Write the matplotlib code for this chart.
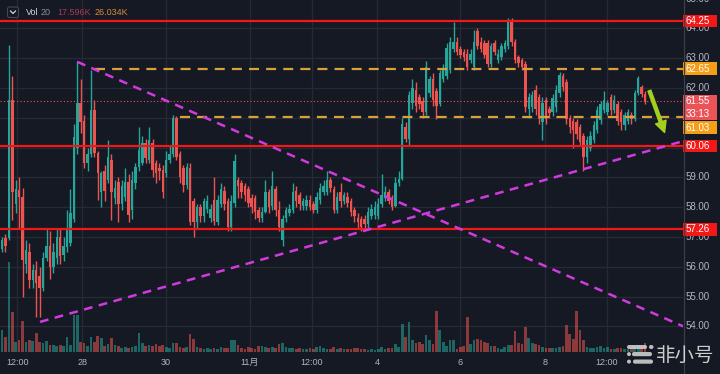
import matplotlib
matplotlib.use("Agg")
import matplotlib.pyplot as plt
from matplotlib.patches import Rectangle, FancyBboxPatch, FancyArrowPatch, Circle
import numpy as np

# ---------------- data ----------------
opens = [
    56.60, 56.95, 56.95, 61.60, 58.10, 58.58, 58.35, 56.10, 56.50, 55.56,
    55.90, 55.70, 55.30, 56.30, 56.70, 56.00, 56.30, 57.00, 56.40, 56.65,
    56.80, 57.60, 60.00, 61.50, 60.90, 59.50, 59.80, 61.26, 59.82, 58.50,
    59.20, 58.90, 59.60, 58.30, 58.85, 58.10, 58.35, 58.85, 57.90, 58.80,
    59.35, 59.50, 60.15, 59.60, 60.15, 59.50, 59.30, 59.25, 59.15, 59.60,
    59.80, 61.00, 59.80, 59.30, 58.75, 59.30, 58.20, 57.50, 58.00, 57.70,
    57.95, 57.65, 58.25, 57.50, 58.10, 58.55, 58.20, 57.35, 58.15, 58.90,
    58.80, 58.70, 58.60, 58.30, 58.30, 57.90, 57.65, 57.85, 58.50, 58.05,
    58.60, 57.90, 56.90, 57.65, 57.80, 57.90, 58.55, 58.40, 58.05, 58.05,
    58.25, 58.10, 57.90, 58.25, 58.50, 58.50, 58.90, 58.60, 57.90, 58.50,
    58.20, 58.35, 58.20, 57.90, 57.65, 57.60, 57.60, 57.45, 57.70, 57.75,
    57.70, 58.10, 58.30, 58.50, 58.30, 58.05, 58.80, 58.95, 60.70, 60.30,
    61.50, 61.95, 61.70, 61.55, 61.20, 61.85, 62.30, 61.90, 61.45, 62.30,
    62.40, 62.60, 63.30, 63.55, 63.30, 63.20, 63.15, 62.95, 62.70, 63.90,
    63.55, 63.50, 63.50, 62.80, 63.50, 62.95, 63.05, 63.30, 63.40, 64.20,
    63.55, 63.05, 62.95, 62.80, 61.30, 61.35, 61.95, 61.70, 60.85, 61.60,
    61.30, 61.20, 61.35, 61.85, 62.40, 62.20, 61.00, 60.90, 60.85, 60.70,
    60.40, 59.70, 60.00, 60.26, 60.60, 60.93, 61.26, 61.20, 61.70, 61.26,
    61.45, 61.20, 60.75, 60.90, 61.10, 60.95, 61.85, 62.05, 61.80,
]
highs = [
    57.00, 57.10, 63.45, 62.40, 58.90, 59.00, 58.65, 56.90, 56.80, 56.10,
    56.20, 56.00, 56.50, 57.30, 57.20, 56.80, 57.30, 57.30, 57.00, 57.90,
    58.60, 60.80, 62.90, 62.30, 61.10, 60.00, 62.60, 61.60, 59.90, 59.20,
    59.40, 60.25, 59.80, 58.90, 59.00, 58.90, 59.30, 59.10, 59.20, 59.50,
    60.70, 60.40, 60.30, 60.70, 60.30, 59.60, 59.50, 59.40, 59.90, 60.10,
    61.10, 61.05, 59.90, 59.40, 59.50, 59.50, 58.30, 58.10, 58.10, 58.30,
    58.40, 58.10, 59.00, 58.40, 58.80, 58.70, 58.30, 58.40, 59.80, 59.00,
    58.90, 58.80, 58.70, 58.45, 58.40, 58.00, 58.00, 58.90, 58.60, 59.20,
    58.70, 58.20, 57.75, 58.00, 58.10, 58.80, 58.70, 58.50, 58.30, 58.40,
    58.40, 58.20, 58.50, 58.80, 58.90, 59.20, 59.00, 58.70, 58.50, 58.80,
    58.50, 58.50, 58.30, 58.00, 57.80, 57.70, 57.75, 58.00, 58.10, 58.20,
    58.30, 59.10, 58.70, 58.60, 58.40, 59.00, 59.20, 61.00, 60.85, 61.90,
    62.30, 62.20, 61.80, 61.70, 62.90, 62.40, 62.50, 62.00, 62.60, 62.80,
    63.50, 63.70, 64.20, 63.70, 63.40, 63.30, 63.30, 63.30, 63.95, 64.00,
    63.70, 63.60, 63.60, 63.50, 63.60, 63.30, 63.50, 63.60, 64.35, 64.35,
    63.65, 63.10, 63.00, 62.90, 61.85, 61.90, 62.10, 61.80, 61.70, 61.70,
    61.40, 61.80, 62.10, 62.55, 62.50, 62.30, 61.10, 61.00, 60.95, 60.80,
    60.50, 60.40, 60.55, 60.90, 61.40, 61.55, 61.90, 61.60, 61.80, 61.75,
    61.55, 61.30, 61.20, 61.30, 61.20, 61.95, 62.40, 62.10, 61.90,
]
lows = [
    56.50, 56.50, 56.90, 57.57, 57.80, 57.30, 55.00, 55.80, 55.30, 55.30,
    54.30, 54.30, 55.20, 56.20, 55.60, 55.80, 56.10, 56.10, 56.20, 56.50,
    56.70, 57.50, 59.80, 60.50, 59.30, 59.20, 59.70, 59.70, 58.25, 58.00,
    58.20, 58.80, 57.57, 58.10, 57.50, 57.90, 58.20, 57.50, 57.60, 58.60,
    59.20, 59.40, 59.50, 59.50, 59.00, 58.80, 58.90, 58.30, 59.00, 59.50,
    59.70, 59.60, 58.80, 58.50, 58.60, 57.40, 57.00, 57.30, 57.50, 57.50,
    57.80, 57.50, 57.40, 57.40, 58.00, 57.90, 57.20, 57.20, 58.00, 58.30,
    58.30, 58.20, 58.00, 57.80, 57.60, 57.50, 57.50, 57.80, 57.80, 57.90,
    57.70, 57.20, 56.70, 57.50, 57.70, 57.80, 58.00, 57.90, 57.90, 57.90,
    57.90, 57.80, 57.80, 58.10, 58.40, 58.40, 58.50, 57.80, 57.80, 58.00,
    58.10, 58.00, 57.70, 57.50, 57.30, 57.20, 57.30, 57.30, 57.60, 57.60,
    57.60, 58.00, 58.20, 58.10, 57.90, 58.00, 58.70, 58.90, 60.20, 60.10,
    61.30, 61.20, 61.30, 61.00, 61.10, 61.70, 61.40, 60.95, 61.40, 62.20,
    62.30, 62.50, 63.20, 63.10, 63.00, 62.90, 62.60, 62.85, 62.60, 63.30,
    63.20, 63.00, 62.70, 62.70, 63.10, 62.85, 62.95, 63.20, 63.30, 63.40,
    62.85, 62.70, 62.60, 61.20, 61.00, 61.20, 61.10, 60.80, 60.25, 60.80,
    61.00, 61.05, 61.20, 61.70, 61.90, 60.80, 60.50, 60.00, 60.30, 60.10,
    59.20, 59.50, 59.90, 60.15, 60.50, 60.80, 61.15, 61.10, 61.10, 61.15,
    60.75, 60.60, 60.60, 60.80, 60.80, 60.90, 61.75, 61.70, 61.45,
]
closes = [
    56.90, 56.70, 61.60, 58.50, 58.60, 58.35, 56.23, 56.57, 55.56, 55.89,
    55.45, 55.30, 56.30, 56.70, 56.00, 56.50, 57.00, 56.35, 56.70, 57.30,
    57.80, 60.35, 61.50, 60.85, 59.50, 59.80, 61.26, 59.82, 59.15, 59.15,
    58.55, 59.70, 58.50, 58.65, 58.10, 58.70, 58.85, 57.75, 58.90, 59.35,
    59.92, 60.15, 59.65, 60.26, 59.25, 59.15, 59.20, 58.50, 59.60, 59.80,
    61.00, 59.70, 59.00, 58.75, 59.35, 57.50, 57.50, 58.00, 57.70, 58.20,
    58.20, 57.95, 57.55, 58.25, 58.60, 58.10, 57.35, 58.20, 59.55, 58.70,
    58.50, 58.40, 58.15, 58.00, 57.85, 57.65, 57.85, 58.50, 58.00, 58.70,
    57.90, 57.35, 57.60, 57.90, 57.95, 58.50, 58.20, 58.10, 58.20, 58.25,
    58.00, 57.90, 58.35, 58.65, 58.70, 58.90, 58.65, 57.90, 58.35, 58.20,
    58.40, 58.15, 57.85, 57.70, 57.50, 57.35, 57.45, 57.85, 57.95, 58.00,
    58.10, 58.40, 58.50, 58.20, 58.00, 58.80, 58.95, 60.80, 60.30, 61.76,
    62.00, 61.40, 61.45, 61.20, 62.70, 62.30, 61.60, 61.40, 62.50, 62.60,
    63.35, 63.55, 63.55, 63.20, 63.10, 63.05, 62.70, 63.15, 63.55, 63.40,
    63.30, 63.10, 62.80, 63.40, 63.20, 63.15, 63.40, 63.50, 64.20, 63.55,
    62.95, 62.85, 62.70, 61.36, 61.70, 61.75, 61.30, 60.95, 61.50, 60.95,
    61.15, 61.65, 61.95, 62.45, 62.05, 60.95, 60.70, 60.60, 60.45, 60.20,
    59.70, 60.26, 60.40, 60.75, 61.25, 61.45, 61.60, 61.50, 61.26, 61.60,
    60.90, 60.85, 61.10, 61.20, 60.95, 61.85, 62.35, 61.80, 61.55,
]
volumes_k = [
    44, 30, 180, 80, 20, 24, 62, 20, 24, 22,
    38, 20, 18, 22, 14, 14, 12, 14, 12, 30,
    14, 74, 74, 20, 18, 12, 30, 20, 32, 28,
    12, 16, 28, 14, 12, 8, 10, 8, 10, 12,
    38, 18, 12, 14, 12, 16, 12, 14, 10, 8,
    18, 18, 10, 8, 10, 36, 26, 10, 8, 6,
    8, 6, 8, 6, 10, 8, 8, 24, 24, 14,
    8, 6, 10, 8, 6, 12, 12, 10, 8, 10,
    8, 16, 18, 10, 8, 8, 6, 8, 6, 6,
    8, 6, 10, 12, 8, 6, 6, 10, 6, 8,
    6, 6, 6, 8, 8, 6, 6, 4, 6, 4,
    6, 10, 6, 8, 8, 16, 10, 56, 30, 60,
    24, 18, 20, 16, 34, 24, 16, 82, 44, 20,
    12, 24, 24, 6, 10, 12, 70, 16, 24, 26,
    24, 20, 18, 12, 12, 8, 6, 10, 14, 14,
    42, 18, 16, 50, 28, 18, 16, 14, 10, 8,
    8, 8, 8, 10, 12, 54, 36, 26, 82, 44,
    24, 10, 8, 8, 10, 12, 8, 10, 6, 6,
    8, 8, 6, 6, 8, 12, 14, 10, 17.596,
]
vol_ma_k = 26.034

tick_pos = [4.4, 23.4, 47.9, 72.5, 90.6, 109.6, 133.9, 158.8, 176.9]
tick_labels = ["12:00", "28", "30", "11月", "12:00", "4", "6", "8", "12:00"]

red_levels = [64.25, 60.06, 57.26]
orange_levels = [62.65, 61.03]
orange_starts = [27.2, 52.0]
last_price = 61.55
countdown = "33:13"

trend_down = [(22.0, 62.88), (199.2, 54.0)]
trend_up = [(11.1, 54.15), (199.2, 60.22)]
arrow_from = (189.0, 62.0)
arrow_to = (194.0, 60.42)

# ---------------- style ----------------
BG = "#151924"
GRID = "#262a35"
UP = "#26a69a"
DOWN = "#ef5350"
RED = "#f21818"
ORANGE = "#d9a03c"
MAGENTA = "#d23ae0"
TXT = "#b2b5be"
FONT = ["Liberation Sans", "Noto Sans CJK SC"]
plt.rcParams["font.family"] = FONT

o = np.array(opens); h = np.array(highs); l = np.array(lows); c = np.array(closes)
v = np.array(volumes_k, dtype=float)
n = len(o)
idx = np.arange(n)
up = c >= o
cols = np.where(up, UP, DOWN)

XMIN, XMAX = -0.6, 199.1
YMIN, YMAX = 53.14, 64.955

fig = plt.figure(figsize=(7.2, 3.74), dpi=100, facecolor=BG)
L, B, W, H = 0.0, 22 / 374, 683 / 720, 352 / 374
ax_v = fig.add_axes([L, B, W, H], facecolor=BG)
ax = fig.add_axes([L, B, W, H], facecolor="none", sharex=ax_v)
ax.set_xlim(XMIN, XMAX)
ax.set_ylim(YMIN, YMAX)
ax_v.set_ylim(0, 704)

# grid (drawn under volume)
for p in range(54, 66):
    ax_v.plot([XMIN, XMAX], [p, p], color=GRID, lw=0.9, transform=ax.transData, zorder=0)
for t in tick_pos:
    ax_v.axvline(t, color=GRID, lw=0.9, zorder=0)

# volume
vcols = [(0.15, 0.65, 0.60, 0.55) if u else (0.94, 0.33, 0.31, 0.55) for u in up]
ax_v.bar(idx, v, width=0.78, color=vcols, linewidth=0, zorder=1)

# candles
ax.vlines(idx, l, h, colors=cols, lw=1.0, zorder=3)
ax.bar(idx, np.maximum(np.abs(c - o), 0.03), bottom=np.minimum(o, c), width=0.72,
       color=cols, linewidth=0, zorder=4)

# levels
for p in red_levels:
    ax.axhline(p, color=RED, lw=1.6, zorder=5)
for p, s in zip(orange_levels, orange_starts):
    ax.plot([s, XMAX + 5], [p, p], color=ORANGE, lw=1.6, ls=(0, (4.5, 3.2)), zorder=5)
ax.axhline(last_price, color=DOWN, lw=0.8, ls=(0, (1, 2)), zorder=5)

# trend lines
for (x0, y0), (x1, y1) in [trend_down, trend_up]:
    ax.plot([x0, x1], [y0, y1], color=MAGENTA, lw=1.8, ls=(0, (3.5, 2.6)), zorder=6)

# arrow
arr = FancyArrowPatch(arrow_from, arrow_to,
                      arrowstyle="simple,head_width=8,head_length=8,tail_width=2.2",
                      color="#a3cf1f", zorder=7, mutation_scale=1)
ax.add_patch(arr)

ax.set_xticks(tick_pos)
ax.set_xticklabels(tick_labels)
ax.tick_params(axis="x", length=0, pad=4, labelsize=6.5, colors=TXT)
ax.set_yticks([])
ax_v.set_yticks([])
ax_v.tick_params(axis="x", length=0, labelbottom=False)
for a in (ax, ax_v):
    for s in a.spines.values():
        s.set_visible(False)

# ---------------- price scale ----------------
ax_r = fig.add_axes([683 / 720, B, 37 / 720, H], facecolor=BG)
ax_r.set_xlim(0, 37)
ax_r.set_ylim(YMIN, YMAX)
ax_r.axis("off")

BOX_H = 0.42
BOX_W = 34
cp_top = last_price + 0.2
cp_bottom = last_price - 0.62
orange2_lbl = min(orange_levels[1], cp_bottom - 0.05 - BOX_H / 2)

boxes = [
    (red_levels[0], f"{red_levels[0]:.2f}", RED, None, None),
    (orange_levels[0], f"{orange_levels[0]:.2f}", "#f59d16", None, None),
    (last_price, f"{last_price:.2f}", "#ea5459", cp_top, cp_bottom),
    (orange2_lbl, f"{orange_levels[1]:.2f}", "#f59d16", None, None),
    (red_levels[1], f"{red_levels[1]:.2f}", RED, None, None),
    (red_levels[2], f"{red_levels[2]:.2f}", RED, None, None),
]
spans = []
for y, _, _, t, b in boxes:
    spans.append((y - BOX_H / 2 if b is None else b, y + BOX_H / 2 if t is None else t))

# gray scale labels (those hidden completely behind a box are skipped)
for p in range(54, 66):
    if any(lo - 0.02 <= p <= hi + 0.02 for lo, hi in spans):
        continue
    ax_r.text(3, p, f"{p:.2f}", color=TXT, fontsize=7, va="center", ha="left", zorder=1)

for (y, text, color, t, b), (lo, hi) in zip(boxes, spans):
    ax_r.add_patch(Rectangle((0, lo), BOX_W, hi - lo, color=color, zorder=3, lw=0))
    ax_r.text(3, y, text, color="white", fontsize=7, va="center", ha="left", zorder=4)
ax_r.text(3, last_price - 0.41, countdown, color="white", fontsize=7, va="center", ha="left", zorder=4)

# ---------------- overlay (legend, separators, watermark) ----------------
ax_o = fig.add_axes([0, 0, 1, 1], facecolor="none", zorder=10)
ax_o.set_xlim(0, 720)
ax_o.set_ylim(374, 0)
ax_o.axis("off")
ax_o.plot([683.5, 683.5], [0, 374], color="#3a3e49", lw=0.9)

ax_o.add_patch(FancyBboxPatch((7.5, 7), 11, 10.5, boxstyle="round,pad=0,rounding_size=2",
                              fc=BG, ec="#434651", lw=0.8))
ax_o.plot([10.5, 13, 15.5], [11, 13.5, 11], color="#d1d4dc", lw=0.9)
ax_o.text(26, 12.5, "Vol", color="#d1d4dc", fontsize=6.5, va="center", ha="left")
ax_o.text(40.5, 12.5, "20", color="#8c8f99", fontsize=6.5, va="center", ha="left")
ax_o.text(57, 12.5, f"{volumes_k[-1]:.3f}K", color="#a63c52", fontsize=6.5, va="center", ha="left")
ax_o.text(95, 12.5, f"{vol_ma_k:.3f}K", color="#d98a3a", fontsize=6.5, va="center", ha="left")

# watermark
WM = "#cfcfcf"
for (x0, y0, w, hh) in [(627, 345, 20, 4), (649, 345, 4.5, 4), (632, 352, 20, 4.2), (633, 359.5, 20, 4.2)]:
    ax_o.add_patch(FancyBboxPatch((x0, y0), w, hh, boxstyle="round,pad=0,rounding_size=2",
                                  fc=WM, ec="none", alpha=0.9))
ax_o.add_patch(Circle((629, 354.1), 2.0, fc=WM, ec="none", alpha=0.9))
ax_o.add_patch(Circle((629, 361.6), 2.0, fc=WM, ec="none", alpha=0.9))
ax_o.text(656, 355, "非小号", color="#dedede", fontsize=14, va="center", ha="left",
          family=["Noto Sans CJK SC"], alpha=0.92)

fig.savefig("out.png", dpi=100, facecolor=BG)
